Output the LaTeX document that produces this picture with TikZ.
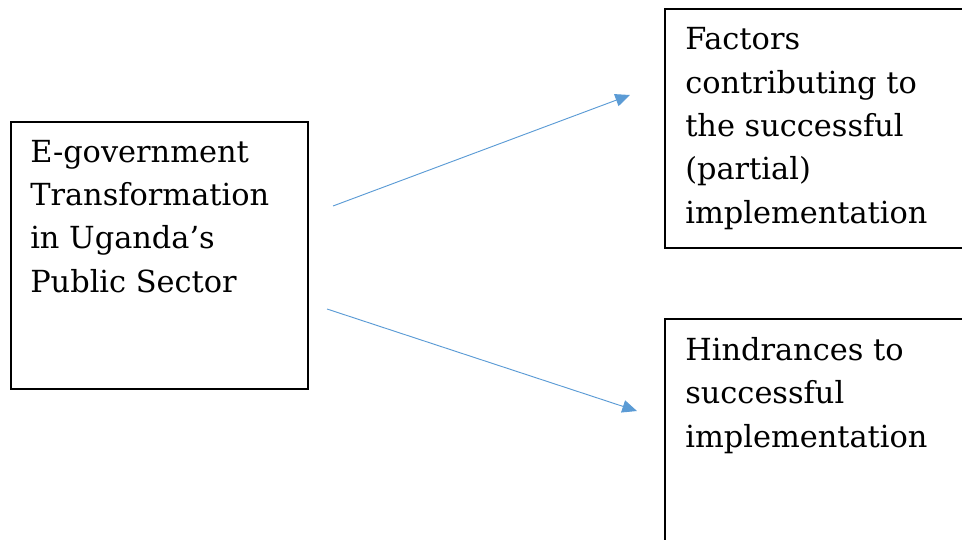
\documentclass[tikz,border=0pt]{standalone}
\usepackage{fontspec}
\setmainfont{DejaVu Serif}
\usetikzlibrary{arrows.meta,positioning}

\definecolor{linkblue}{HTML}{5B9BD5}

\tikzset{
  frame/.style={draw, line width=1.2pt, anchor=north west, inner sep=0pt},
  boxtext/.style={anchor=base west, align=left, inner sep=0pt,
    font=\fontsize{22.8}{32.5}\selectfont},
  link/.style={draw=linkblue, line width=0.7pt,
    -{Triangle[length=11pt,width=9.5pt]}}
}

\begin{document}
\begin{tikzpicture}[x=0.75pt,y=-0.75pt]
	\useasboundingbox (0,0) rectangle (962,539);
	\clip (0,0) rectangle (962,539);

	%Draws the three boxes
	\node[frame, minimum width=222.75pt, minimum height=200.25pt] (egov) at (10,121) {};
	\node[frame, minimum width=225pt, minimum height=179.25pt] (factors) at (664,8) {};
	\node[frame, minimum width=225pt, minimum height=200pt] (hinder) at (664,318) {};

	%Writes the text of the boxes (placed at the baseline of the last line)
	\node[boxtext] (egovtxt) at (30,292) {E-government\\Transformation\\in Uganda’s\\Public Sector};
	\node[boxtext] (factorstxt) at (685,223) {Factors\\contributing to\\the successful\\(partial)\\implementation};
	\node[boxtext] (hindertxt) at (685,447) {Hindrances to\\successful\\implementation};

	%Draws the two arrows
	\coordinate (upfrom) at (333,206);
	\coordinate (upto) at (630,95);
	\coordinate (downfrom) at (327,309);
	\coordinate (downto) at (637,411);
	\draw[link] (upfrom) -- (upto);
	\draw[link] (downfrom) -- (downto);
\end{tikzpicture}
\end{document}
